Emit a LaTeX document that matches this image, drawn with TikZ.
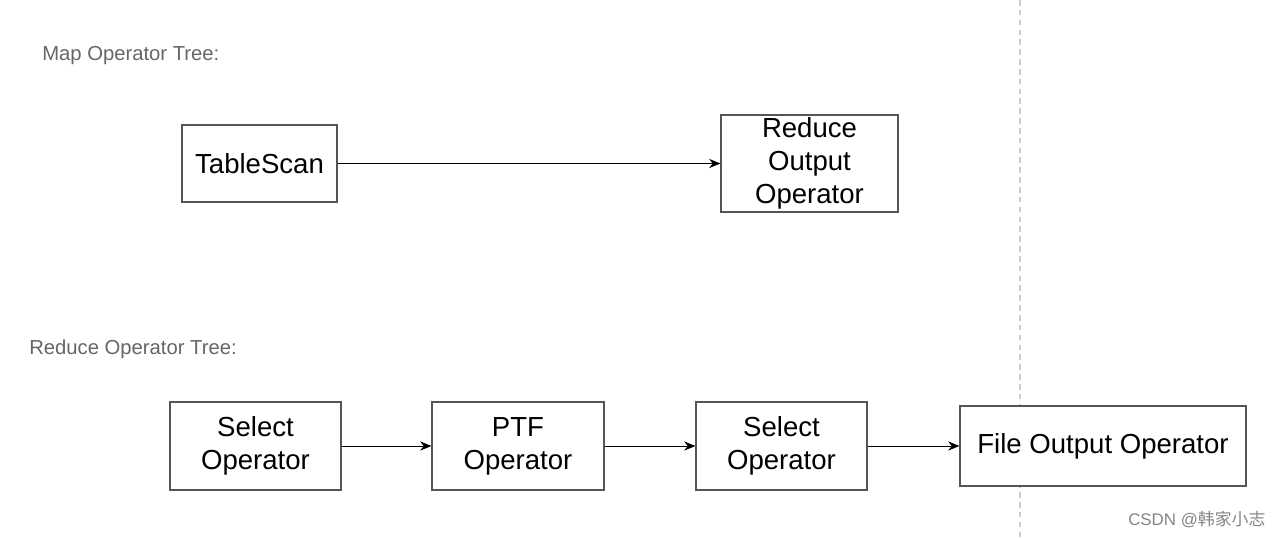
\documentclass[tikz,border=0pt]{standalone}
\usepackage{fontspec}
\setmainfont{Liberation Sans}
\newfontfamily\cjkfont{Noto Sans CJK SC}
\usetikzlibrary{arrows.meta}
\usetikzlibrary{positioning}
\definecolor{labelgray}{HTML}{666666}
\definecolor{boxgray}{HTML}{555555}
\definecolor{splitgray}{HTML}{CCCCCC}
\tikzstyle{line} = [draw, -{Stealth[length=8pt,width=6.5pt]}, line width=0.6pt]

\begin{document}
\begin{tikzpicture}[x=0.025cm, y=-0.025cm,
        opbox/.style={draw=boxgray, line width=0.8pt, fill=white,
            align=center, inner sep=0pt,
            font=\fontsize{19.6}{23.5}\selectfont},
        treelabel/.style={anchor=west, text=labelgray, inner sep=0pt,
            font=\fontsize{14.4}{17}\selectfont},
        split/.style={draw=splitgray, line width=0.9pt, dash pattern=on 4pt off 3pt}]
        \useasboundingbox (0,0) rectangle (1280,538);
        %% Divider
        \coordinate (top) at (1020,0);
        \coordinate (bottom) at (1020,538);
        \path [split] (top) -- (bottom);
        %% Labels
        \node [treelabel] at (42,56) (MapLabel) {Map Operator Tree:};
        \node [treelabel] at (29,349) (ReduceLabel) {Reduce Operator Tree:};
        %% Map side
        \node [opbox, minimum width=3.875cm, minimum height=1.925cm] at (259.5,163.5) (scan) {TableScan};
        \node [opbox, minimum width=4.425cm, minimum height=2.425cm] at (809.5,163.5) (rso) {Reduce\\Output\\Operator};
        %% Reduce side
        \node [opbox, minimum width=4.275cm, minimum height=2.2cm] at (255.5,446) (sel1) {Select\\Operator};
        \node [opbox, minimum width=4.3cm, minimum height=2.2cm] at (518,446) (ptf) {PTF\\Operator};
        \node [opbox, minimum width=4.275cm, minimum height=2.2cm] at (781.5,446) (sel2) {Select\\Operator};
        \node [opbox, minimum width=7.15cm, minimum height=2cm] at (1103,446) (fso) {File Output Operator};
        %% Arcs
        \path [line] (scan) -- (rso);
        \path [line] (sel1) -- (ptf);
        \path [line] (ptf) -- (sel2);
        \path [line] (sel2) -- (fso);
        %% Watermark
        \node [anchor=west, inner sep=0pt, text=labelgray!80, font=\fontsize{12}{14}\selectfont] at (1128,520) (mark) {CSDN @{\cjkfont 韩家小志}};
    \end{tikzpicture}
\end{document}
